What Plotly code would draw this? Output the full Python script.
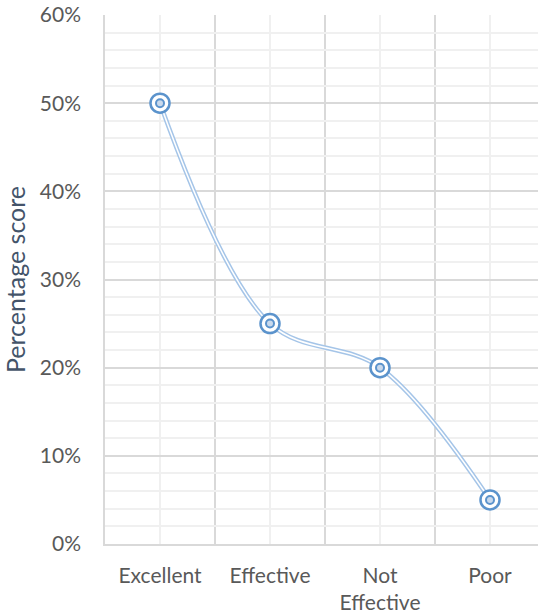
import plotly.graph_objects as go

categories = ["Excellent", "Effective", "Not<br>Effective", "Poor"]
scores = [0.50, 0.25, 0.20, 0.05]
y_ticks = [0.0, 0.1, 0.2, 0.3, 0.4, 0.5, 0.6]
y_tick_labels = ["0%", "10%", "20%", "30%", "40%", "50%", "60%"]

x_pos = list(range(len(categories)))
boundaries = [i - 0.5 for i in range(len(categories) + 1)]

FONT = "Lato, 'Open Sans', sans-serif"
LINE_BLUE = "#A5C5E8"
RING_BLUE = "#5B93CC"

fig = go.Figure()

# double (compound) smoothed line: wide blue stroke with a thin white core
fig.add_trace(go.Scatter(
    x=x_pos, y=scores, mode="lines",
    line=dict(color=LINE_BLUE, width=4.5, shape="spline", smoothing=1.0),
    hoverinfo="skip", showlegend=False,
))
fig.add_trace(go.Scatter(
    x=x_pos, y=scores, mode="lines",
    line=dict(color="white", width=1.5, shape="spline", smoothing=1.0),
    hoverinfo="skip", showlegend=False,
))
# bullseye markers: outer ring plus inner small ring
fig.add_trace(go.Scatter(
    x=x_pos, y=scores, mode="markers",
    marker=dict(symbol="circle", size=19, color="white",
                line=dict(color=RING_BLUE, width=2.5)),
    showlegend=False,
))
fig.add_trace(go.Scatter(
    x=x_pos, y=scores, mode="markers",
    marker=dict(symbol="circle", size=8, color="#C9D9EC",
                line=dict(color=RING_BLUE, width=2)),
    showlegend=False,
))

# right end of the axis range: the last category column runs past the page edge
x_right = 3.5 - 7 / 110

fig.update_layout(
    width=538, height=615,
    margin=dict(l=105, r=0, t=15, b=71),
    paper_bgcolor="white", plot_bgcolor="white",
    font=dict(family=FONT, size=21, color="#595959"),
    xaxis=dict(
        range=[-0.5, x_right],
        tickmode="array", tickvals=x_pos, ticktext=categories,
        showgrid=True, gridcolor="#F0F0F0", gridwidth=1.5,
        minor=dict(tickmode="array", tickvals=boundaries, showgrid=True,
                   gridcolor="#D9D9D9", gridwidth=1.5, ticks=""),
        showline=True, linecolor="#D9D9D9", linewidth=1.5,
        ticks="", ticklabelstandoff=12, zeroline=False,
        tickfont=dict(family=FONT, size=21, color="#595959"),
    ),
    yaxis=dict(
        range=[0, 0.6],
        tickmode="array", tickvals=y_ticks, ticktext=y_tick_labels,
        showgrid=True, gridcolor="#D9D9D9", gridwidth=1.5,
        minor=dict(dtick=0.02, showgrid=True, gridcolor="#F0F0F0",
                   gridwidth=1.5, ticks=""),
        showline=True, linecolor="#D9D9D9", linewidth=1.5,
        ticks="", ticklabelstandoff=18, zeroline=False,
        tickfont=dict(family=FONT, size=21, color="#595959"),
        title=dict(text="Percentage score", standoff=14,
                   font=dict(family=FONT, size=25, color="#44546A")),
    ),
)

fig.write_html("out.html")
